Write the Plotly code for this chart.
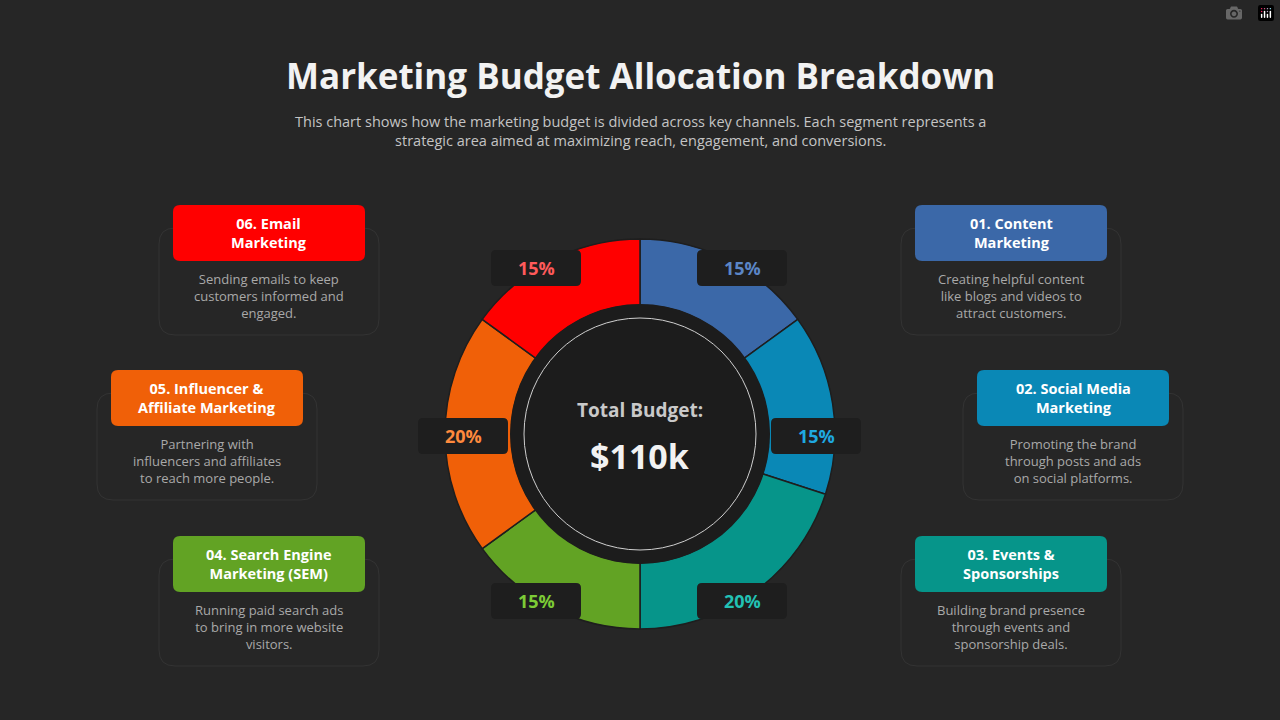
import plotly.graph_objects as go

channels = ["01. Content Marketing", "02. Social Media Marketing", "03. Events & Sponsorships",
            "04. Search Engine Marketing (SEM)", "05. Influencer & Affiliate Marketing", "06. Email Marketing"]
shares = [15, 15, 20, 15, 20, 15]
colors = ["#3b68a8", "#0a88b6", "#06958a", "#62a324", "#f06008", "#ff0000"]
label_colors = ["#5b86c6", "#1fa9e0", "#22c2b4", "#7ccb36", "#ff8a3d", "#ff5a5a"]
headers = ["01. Content<br>Marketing", "02. Social Media<br>Marketing", "03. Events &<br>Sponsorships",
           "04. Search Engine<br>Marketing (SEM)", "05. Influencer &<br>Affiliate Marketing", "06. Email<br>Marketing"]
descs = ["Creating helpful content<br>like blogs and videos to<br>attract customers.",
         "Promoting the brand<br>through posts and ads<br>on social platforms.",
         "Building brand presence<br>through events and<br>sponsorship deals.",
         "Running paid search ads<br>to bring in more website<br>visitors.",
         "Partnering with<br>influencers and affiliates<br>to reach more people.",
         "Sending emails to keep<br>customers informed and<br>engaged."]

W, H = 1280, 720
BG = "#262626"
FONT = "Open Sans"

def fx(x): return x / W
def fy(y): return 1 - y / H

def rrect(x0, y0, x1, y1, r):
    return (f"M{x0+r},{y0} L{x1-r},{y0} Q{x1},{y0} {x1},{y0+r} L{x1},{y1-r} Q{x1},{y1} {x1-r},{y1} "
            f"L{x0+r},{y1} Q{x0},{y1} {x0},{y1-r} L{x0},{y0+r} Q{x0},{y0} {x0+r},{y0} Z")

cx, cy, R = 640, 434, 195
fig = go.Figure()
fig.add_trace(go.Pie(values=shares, labels=channels, marker=dict(colors=colors, line=dict(color="#1e1e1e", width=1.5)),
                     hole=0.66, sort=False, direction="clockwise", rotation=0, textinfo="none",
                     hoverinfo="label+percent", showlegend=False,
                     domain=dict(x=[fx(cx-R), fx(cx+R)], y=[fy(cy+R), fy(cy-R)])))

shapes, ann = [], []
shapes.append(dict(type="circle", xref="paper", yref="paper", x0=fx(cx-130), x1=fx(cx+130), y0=fy(cy+130), y1=fy(cy-130),
                   fillcolor="#1c1c1c", line=dict(color="#1c1c1c", width=0), layer="above"))
shapes.append(dict(type="circle", xref="paper", yref="paper", x0=fx(cx-116), x1=fx(cx+116), y0=fy(cy+116), y1=fy(cy-116),
                   fillcolor="rgba(0,0,0,0)", line=dict(color="#cfcfcf", width=1), layer="above"))
ann.append(dict(x=fx(cx), y=fy(410), text="<b>Total Budget:</b>", font=dict(size=19, color="#c9c9c9", family=FONT)))
ann.append(dict(x=fx(cx), y=fy(456), text="<b>$110k</b>", font=dict(size=34, color="#f2f2f2", family=FONT)))

badge_pos = [(742, 268), (816, 436), (742, 601), (536, 601), (463, 436), (536, 268)]
for (bx, by), v, c in zip(badge_pos, shares, label_colors):
    shapes.append(dict(type="path", xref="x", yref="y", path=rrect(bx-45, by-18, bx+45, by+18, 5),
                       fillcolor="#1e1e1e", line=dict(width=0), layer="above"))
    ann.append(dict(x=fx(bx), y=fy(by), text=f"<b>{v}%</b>", font=dict(size=18, color=c, family=FONT)))

cards = [(915, 205), (977, 370), (915, 536), (173, 536), (111, 370), (173, 205)]
for (hx, hy), c, h, d in zip(cards, colors, headers, descs):
    shapes.append(dict(type="path", xref="x", yref="y", path=rrect(hx-14, hy+23, hx+206, hy+130, 16),
                       fillcolor="rgba(0,0,0,0)", line=dict(color="#333333", width=1)))
    shapes.append(dict(type="path", xref="x", yref="y", path=rrect(hx, hy, hx+192, hy+56, 7),
                       fillcolor=c, line=dict(width=0)))
    ann.append(dict(x=fx(hx+96), y=fy(hy+28), text=f"<b>{h}</b>", font=dict(size=14.5, color="white", family=FONT)))
    ann.append(dict(x=fx(hx+96), y=fy(hy+91), text=d, font=dict(size=13, color="#a9a9a9", family=FONT)))

ann.append(dict(x=0.5, y=fy(76), text="<b>Marketing Budget Allocation Breakdown</b>",
                font=dict(size=35, color="#f2f2f2", family=FONT)))
ann.append(dict(x=0.5, y=fy(131), text="This chart shows how the marketing budget is divided across key channels. Each segment represents a<br>strategic area aimed at maximizing reach, engagement, and conversions.",
                font=dict(size=14.5, color="#c4c4c4", family=FONT)))
for a in ann:
    a.update(xref="paper", yref="paper", showarrow=False, xanchor="center", yanchor="middle")

fig.update_layout(width=W, height=H, margin=dict(l=0, r=0, t=0, b=0), paper_bgcolor=BG, plot_bgcolor=BG,
                  shapes=shapes, annotations=ann,
                  xaxis=dict(range=[0, W], visible=False, fixedrange=True),
                  yaxis=dict(range=[H, 0], visible=False, fixedrange=True))
fig.write_html("out.html")
with open("out.html", encoding="utf-8") as f:
    html = f.read()
html = html.replace("<body>", '<body style="margin:0;background:#262626">', 1)
with open("out.html", "w", encoding="utf-8") as f:
    f.write(html)
